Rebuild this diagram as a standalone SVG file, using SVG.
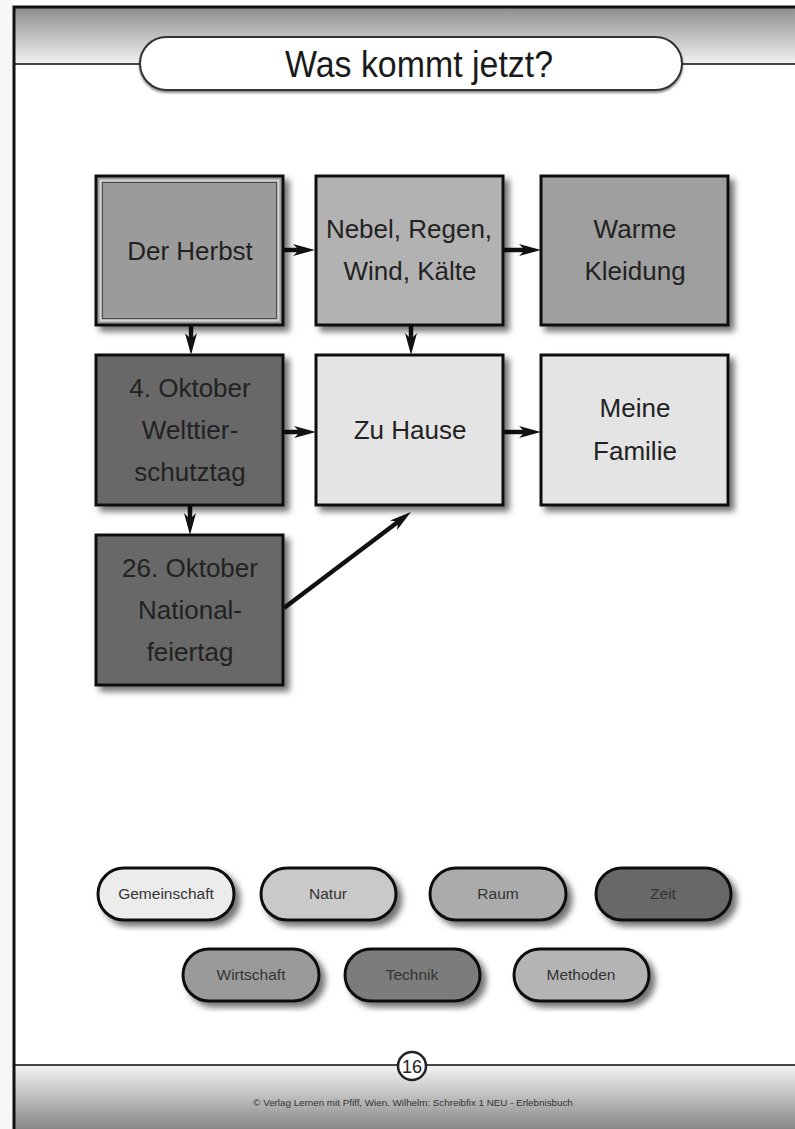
<svg xmlns="http://www.w3.org/2000/svg" width="795" height="1129" viewBox="0 0 795 1129">
  <defs>
    <linearGradient id="hdrGrad" x1="0" y1="0" x2="0" y2="1">
      <stop offset="0" stop-color="#8c8c8c"/>
      <stop offset="1" stop-color="#f3f3f3"/>
    </linearGradient>
    <linearGradient id="ftrGrad" x1="0" y1="0" x2="0" y2="1">
      <stop offset="0" stop-color="#f2f2f2"/>
      <stop offset="1" stop-color="#878787"/>
    </linearGradient>
    <filter id="shadow" x="-10%" y="-10%" width="130%" height="130%">
      <feDropShadow dx="5" dy="5" stdDeviation="3" flood-color="#000" flood-opacity="0.55"/>
    </filter>
    <filter id="smallShadow" x="-5%" y="-20%" width="110%" height="150%">
      <feDropShadow dx="0" dy="2" stdDeviation="1.2" flood-color="#000" flood-opacity="0.45"/>
    </filter>
    <marker id="arrow" viewBox="0 0 22 12" refX="8" refY="6" markerWidth="22" markerHeight="12" markerUnits="userSpaceOnUse" orient="auto">
      <path d="M0,0 L22,6 L0,12 L6,6 Z" fill="#111"/>
    </marker>
  </defs>
  <style>
    .box { stroke: #111; stroke-width: 3; filter: url(#shadow); }
    .pill { stroke: #111; stroke-width: 3; filter: url(#shadow); }
    .lbl { font-family: "Liberation Sans", Arial, sans-serif; font-size: 26px; fill: #222; text-anchor: middle; }
    .plbl { font-family: "Liberation Sans", Arial, sans-serif; font-size: 15.5px; fill: #333; text-anchor: middle; }
    .conn { stroke: #111; stroke-width: 4.5; fill: none; marker-end: url(#arrow); }
    .frame { stroke: #111; stroke-width: 3; fill: none; }
    .rule { stroke: #444; stroke-width: 2; }
  </style>

  <!-- page background -->
  <rect x="0" y="0" width="795" height="1129" fill="#ffffff"/>
  <rect x="0" y="0" width="13" height="1129" fill="#f7f7f7"/>

  <!-- header -->
  <g id="header">
    <rect x="14" y="7" width="781" height="57" fill="url(#hdrGrad)"/>
    <line class="rule" x1="14" y1="64" x2="795" y2="64"/>
    <rect x="140" y="37" width="542" height="53" rx="26.5" fill="#ffffff" stroke="#333" stroke-width="2" filter="url(#smallShadow)"/>
    <text x="419" y="77" font-family="Liberation Sans, Arial, sans-serif" font-size="36" fill="#1a1a1a" text-anchor="middle" textLength="268" lengthAdjust="spacingAndGlyphs">Was kommt jetzt?</text>
  </g>

  <!-- footer -->
  <g id="footer">
    <rect x="14" y="1066" width="781" height="63" fill="url(#ftrGrad)"/>
    <line class="rule" x1="14" y1="1065" x2="795" y2="1065"/>
    <circle cx="412" cy="1066" r="14" fill="#ffffff" stroke="#222" stroke-width="2.5"/>
    <text x="412" y="1073" font-family="Liberation Sans, Arial, sans-serif" font-size="18" fill="#222" text-anchor="middle">16</text>
    <text x="413" y="1106" font-family="Liberation Sans, Arial, sans-serif" font-size="9.8" fill="#333" text-anchor="middle">© Verlag Lernen mit Pfiff, Wien. Wilhelm: Schreibfix 1 NEU - Erlebnisbuch</text>
  </g>

  <!-- page frame -->
  <path class="frame" d="M14,1129 L14,7 L795,7"/>

  <!-- connectors -->
  <g id="connectors">
    <line class="conn" x1="284" y1="250" x2="301" y2="250"/>
    <line class="conn" x1="504" y1="250" x2="527" y2="250"/>
    <line class="conn" x1="191" y1="326" x2="191" y2="341"/>
    <line class="conn" x1="411" y1="326" x2="411" y2="341"/>
    <line class="conn" x1="284" y1="432" x2="302" y2="432"/>
    <line class="conn" x1="504" y1="432" x2="527" y2="432"/>
    <line class="conn" x1="190" y1="506" x2="190" y2="521"/>
    <line class="conn" x1="284" y1="608" x2="399.8" y2="520.5"/>
  </g>

  <!-- nodes -->
  <g id="node-herbst">
    <rect class="box" x="96" y="176" width="187" height="149" fill="#9b9b9b"/>
    <rect x="100.5" y="180.5" width="178" height="140" fill="none" stroke="#d4d4d4" stroke-width="2"/>
    <rect x="102.5" y="182.5" width="174" height="136" fill="none" stroke="#4a4a4a" stroke-width="1"/>
    <text class="lbl" x="190" y="260">Der Herbst</text>
  </g>
  <g id="node-nebel">
    <rect class="box" x="316" y="176" width="187" height="149" fill="#b2b2b2"/>
    <text class="lbl" x="409" y="238">Nebel, Regen,</text>
    <text class="lbl" x="410" y="280">Wind, Kälte</text>
  </g>
  <g id="node-warme">
    <rect class="box" x="541" y="176" width="187" height="149" fill="#9f9f9f"/>
    <text class="lbl" x="635" y="238">Warme</text>
    <text class="lbl" x="635" y="280">Kleidung</text>
  </g>
  <g id="node-welttierschutztag">
    <rect class="box" x="96" y="355" width="187" height="150" fill="#686868"/>
    <text class="lbl" x="190" y="397">4. Oktober</text>
    <text class="lbl" x="190" y="439">Welttier-</text>
    <text class="lbl" x="190" y="481">schutztag</text>
  </g>
  <g id="node-zuhause">
    <rect class="box" x="316" y="355" width="187" height="150" fill="#e4e4e4"/>
    <text class="lbl" x="410" y="439">Zu Hause</text>
  </g>
  <g id="node-familie">
    <rect class="box" x="541" y="355" width="187" height="150" fill="#e4e4e4"/>
    <text class="lbl" x="635" y="417">Meine</text>
    <text class="lbl" x="635" y="460">Familie</text>
  </g>
  <g id="node-nationalfeiertag">
    <rect class="box" x="96" y="535" width="187" height="150" fill="#686868"/>
    <text class="lbl" x="190" y="577">26. Oktober</text>
    <text class="lbl" x="190" y="619">National-</text>
    <text class="lbl" x="190" y="661">feiertag</text>
  </g>

  <!-- category pills -->
  <g id="pill-gemeinschaft">
    <rect class="pill" x="98" y="868" width="136" height="52" rx="26" fill="#ececec"/>
    <text class="plbl" x="166" y="899">Gemeinschaft</text>
  </g>
  <g id="pill-natur">
    <rect class="pill" x="261" y="868" width="135" height="52" rx="26" fill="#c9c9c9"/>
    <text class="plbl" x="328" y="899">Natur</text>
  </g>
  <g id="pill-raum">
    <rect class="pill" x="430" y="868" width="136" height="52" rx="26" fill="#ababab"/>
    <text class="plbl" x="498" y="899">Raum</text>
  </g>
  <g id="pill-zeit">
    <rect class="pill" x="596" y="868" width="135" height="52" rx="26" fill="#676767"/>
    <text class="plbl" x="663" y="899" fill="#2a2a2a">Zeit</text>
  </g>
  <g id="pill-wirtschaft">
    <rect class="pill" x="183" y="949" width="136" height="52" rx="26" fill="#9a9a9a"/>
    <text class="plbl" x="251" y="980">Wirtschaft</text>
  </g>
  <g id="pill-technik">
    <rect class="pill" x="345" y="949" width="135" height="52" rx="26" fill="#7c7c7c"/>
    <text class="plbl" x="412" y="980" fill="#222">Technik</text>
  </g>
  <g id="pill-methoden">
    <rect class="pill" x="514" y="949" width="135" height="52" rx="26" fill="#b4b4b4"/>
    <text class="plbl" x="581" y="980">Methoden</text>
  </g>
</svg>
